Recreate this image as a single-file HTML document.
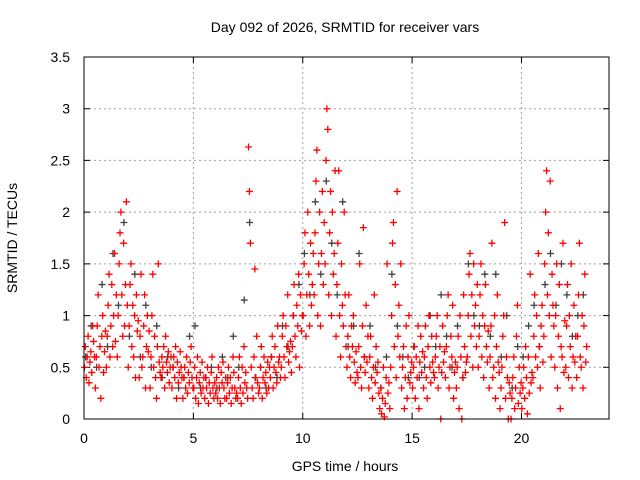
<!DOCTYPE html>
<html><head><meta charset="utf-8"><style>
body{margin:0;background:#fff}
svg{display:block;font-family:"Liberation Sans",sans-serif}
</style></head><body>
<svg id="chart" width="640" height="480">
<text x="345" y="32" font-size="14" text-anchor="middle">Day 092 of 2026, SRMTID for receiver vars</text>
<text x="345" y="471" font-size="14" text-anchor="middle">GPS time / hours</text>
<text transform="translate(17,238) rotate(-90)" font-size="14" text-anchor="middle">SRMTID / TECUs</text>
<g id="grid"></g><g id="ticks"></g><g id="marks"></g>
<rect x="84" y="57" width="525" height="362" fill="none" stroke="#000" stroke-width="1"/>
</svg>
<script>
const xTicks=[0,5,10,15,20];
const yTicks=[0,0.5,1,1.5,2,2.5,3,3.5];
const yTickLabels=["0","0.5","1","1.5","2","2.5","3","3.5"];
const binStart=0, binWidth=0.5;
const redBins=[
[0.5,0.7,0.4,0.6,0.8,0.35,0.55,0.65,0.45,0.9,0.75,0.6],
[0.3,0.6,0.9,1.2,0.5,0.7,0.2,0.8,1.0,0.45,0.65,0.85],
[0.5,0.8,1.1,1.4,0.6,0.9,1.3,0.7,1.0,1.6,0.75,1.2],
[0.6,1.0,1.5,1.8,2.0,1.2,0.8,1.7,0.9,1.3,2.1,1.1],
[0.5,0.9,1.3,1.5,0.7,1.1,0.6,1.0,0.4,1.2,0.85,0.95],
[0.4,0.8,1.4,0.5,0.6,0.9,1.2,0.3,0.7,1.0,0.65,0.85],
[0.3,0.6,1.0,1.4,0.5,0.8,0.4,0.2,0.7,1.5,0.55,0.45],
[0.4,0.6,0.5,0.7,0.3,0.8,0.55,0.45,0.65,0.35,0.5,0.6],
[0.3,0.5,0.6,0.4,0.7,0.2,0.55,0.35,0.45,0.65,0.5,0.4],
[0.2,0.4,0.5,0.3,0.6,0.25,0.45,0.35,0.55,0.7,0.4,0.3],
[0.3,0.5,0.2,0.4,0.6,0.15,0.35,0.45,0.25,0.55,0.3,0.4],
[0.2,0.4,0.3,0.5,0.15,0.35,0.25,0.45,0.6,0.3,0.2,0.35],
[0.25,0.4,0.2,0.5,0.3,0.15,0.45,0.35,0.55,0.3,0.2,0.4],
[0.2,0.35,0.5,0.25,0.4,0.15,0.3,0.6,0.45,0.3,0.2,0.25],
[0.2,0.4,0.6,0.3,0.15,0.5,0.25,0.7,0.35,0.45,0.3,0.2],
[2.63,2.2,1.7,0.5,0.3,0.2,0.6,1.45,0.4,0.8,0.35,0.25],
[0.3,0.5,0.7,0.2,0.4,0.6,0.35,0.45,0.25,0.55,0.3,0.5],
[0.4,0.6,0.8,0.3,0.5,0.7,0.45,0.35,0.9,0.55,0.6,0.4],
[0.5,0.8,1.0,0.6,0.4,0.9,0.7,1.2,0.55,0.65,0.75,0.45],
[0.7,1.0,1.3,0.8,0.6,1.1,0.9,1.4,0.5,1.2,0.85,1.0],
[1.0,1.5,1.8,0.8,1.2,2.0,1.4,0.9,1.7,1.1,1.3,1.6],
[1.2,1.8,2.3,2.6,1.0,1.5,2.0,0.9,1.6,2.2,1.3,1.9],
[1.5,2.5,3.0,2.8,1.2,1.8,2.2,1.0,2.0,1.4,1.6,2.4],
[0.8,1.3,1.7,2.4,1.0,0.6,1.5,1.1,0.9,2.0,1.2,0.7],
[0.5,0.8,1.2,0.6,0.4,0.9,0.7,1.0,0.55,0.35,0.65,0.45],
[0.4,0.7,1.5,0.5,0.3,0.9,1.85,0.6,0.45,1.1,0.55,0.8],
[0.3,0.6,0.8,0.4,0.2,0.5,1.2,0.35,0.7,0.45,0.55,0.25],
[0.1,0.3,0.05,0.2,0.5,0.02,0.15,0.4,1.5,0.25,0.35,0.1],
[0.5,1.0,1.7,1.9,0.7,1.3,0.4,2.2,0.8,1.1,0.6,1.5],
[0.3,0.5,0.7,0.1,0.4,0.9,0.2,0.6,1.0,0.35,0.45,0.55],
[0.3,0.5,0.7,0.2,0.6,0.4,0.9,0.1,0.55,0.8,0.45,0.65],
[0.3,0.6,0.9,0.4,0.2,0.7,1.0,0.5,0.35,0.8,0.55,0.45],
[0.4,0.6,0.8,1.0,0.3,0.5,0.7,0.0,0.45,0.9,0.55,0.65],
[0.4,0.7,1.0,1.2,0.3,0.5,0.8,0.6,1.1,0.2,0.45,0.55],
[0.3,0.5,0.8,0.1,1.0,0.6,0.0,0.4,1.2,0.7,0.45,0.55],
[0.6,1.0,1.4,1.6,0.8,1.2,0.5,1.5,0.9,1.1,0.7,1.3],
[0.5,0.8,1.2,1.5,0.6,1.0,0.4,0.9,1.3,0.7,0.55,0.85],
[0.3,0.6,0.9,1.7,0.4,0.5,1.0,0.2,0.7,1.2,0.55,0.45],
[0.1,0.3,0.5,0.8,1.0,1.9,0.2,0.6,0.4,0.0,0.35,0.25],
[0.0,0.2,0.4,0.6,0.1,0.3,0.8,1.1,0.15,0.5,0.25,0.35],
[0.1,0.3,0.5,0.2,0.7,0.4,0.05,0.6,0.25,1.4,0.35,0.45],
[0.4,0.8,1.2,0.6,1.0,0.5,1.6,0.7,0.3,0.9,1.1,0.55],
[0.8,1.5,2.0,2.4,1.2,1.8,1.0,2.3,0.6,1.4,1.1,0.9],
[0.5,1.0,1.5,0.3,0.8,1.3,0.1,0.7,0.6,1.7,0.45,0.95],
[0.5,0.9,1.3,0.4,1.0,0.7,1.5,0.3,0.6,1.1,0.55,0.8],
[0.4,0.8,1.2,1.7,0.6,0.5,1.0,0.3,0.9,1.4,0.55,0.7]
];
const greyBins=[
[0.6,0.9],[0.5,1.3],[0.7,1.6],[1.1,1.9],[0.8,1.4],[0.6,1.1],[0.5,0.9],[0.4,0.6],
[0.5,0.3],[0.4,0.8],[0.9,0.3],[0.4,0.5],[0.3,0.6],[0.4,0.8],[0.5,1.15],[1.9,0.4],
[0.5,0.3],[0.6,0.4],[0.9,0.7],[1.0,1.3],[1.6,1.2],[2.1,1.4],[2.3,1.7],[1.2,2.1],
[0.7,0.9],[1.6,0.6],[0.9,0.5],[0.3,0.6],[1.4,0.9],[0.6,0.4],[0.7,0.4],[0.5,1.0],
[0.7,1.2],[0.8,0.5],[0.9,0.4],[1.5,1.0],[0.9,1.4],[0.8,1.4],[0.6,1.0],[0.3,0.7],
[0.6,0.9],[1.1,0.7],[1.3,1.6],[1.1,1.5],[1.2,0.8],[1.0,1.2]
];
const NS="http://www.w3.org/2000/svg";
const X0=84,X1=609,Y0=419,Y1=57,xMax=24,yMax=3.5;
function xs(v){return X0+(X1-X0)*v/xMax;}
function ys(v){return Y0-(Y0-Y1)*v/yMax;}
const grid=document.getElementById('grid'),ticks=document.getElementById('ticks'),marks=document.getElementById('marks');
function mk(tag,attrs,parent){const e=document.createElementNS(NS,tag);for(const k in attrs)e.setAttribute(k,attrs[k]);parent.appendChild(e);return e;}
xTicks.forEach(t=>{
  const x=xs(t);
  if(t>0){const g=mk('line',{x1:x,x2:x,y1:Y0,y2:Y1,stroke:'#a0a0a0','stroke-dasharray':'2,3'},grid);
  
  }
  const tk=mk('path',{d:`M${x},${Y0}v-6M${x},${Y1}v6`,stroke:'#000'},ticks);
  
  
  const lb=mk('text',{x:x,y:443,'font-size':14,'text-anchor':'middle'},ticks);
  lb.textContent=t;
  
  
});
yTicks.forEach((t,i)=>{
  const y=ys(t);
  if(t>0&&t<yMax){const g=mk('line',{x1:X0,x2:X1,y1:y,y2:y,stroke:'#a0a0a0','stroke-dasharray':'2,3'},grid);
  
  }
  const tk=mk('path',{d:`M${X0},${y}h6M${X1},${y}h-6`,stroke:'#000'},ticks);
  
  
  const lb=mk('text',{x:70,y:y+5,'font-size':14,'text-anchor':'end'},ticks);
  lb.textContent=yTickLabels[i];
  
  
});
function cross(h,v,color,name){
  const x=xs(h),y=ys(Math.min(v,yMax));
  const p=mk('path',{d:`M${x-3.5},${y}h7M${x},${y-3.5}v7`,stroke:color,'stroke-width':1.3},marks);
  
  
}
greyBins.forEach((vals,b)=>vals.forEach((v,i)=>cross(binStart+b*binWidth+(i+0.3)*binWidth/vals.length,v,'#404040','grey-point')));
redBins.forEach((vals,b)=>vals.forEach((v,i)=>cross(binStart+b*binWidth+(i+0.5)*binWidth/vals.length,v,'#ff0000','red-point')));
</script>
</body></html>
